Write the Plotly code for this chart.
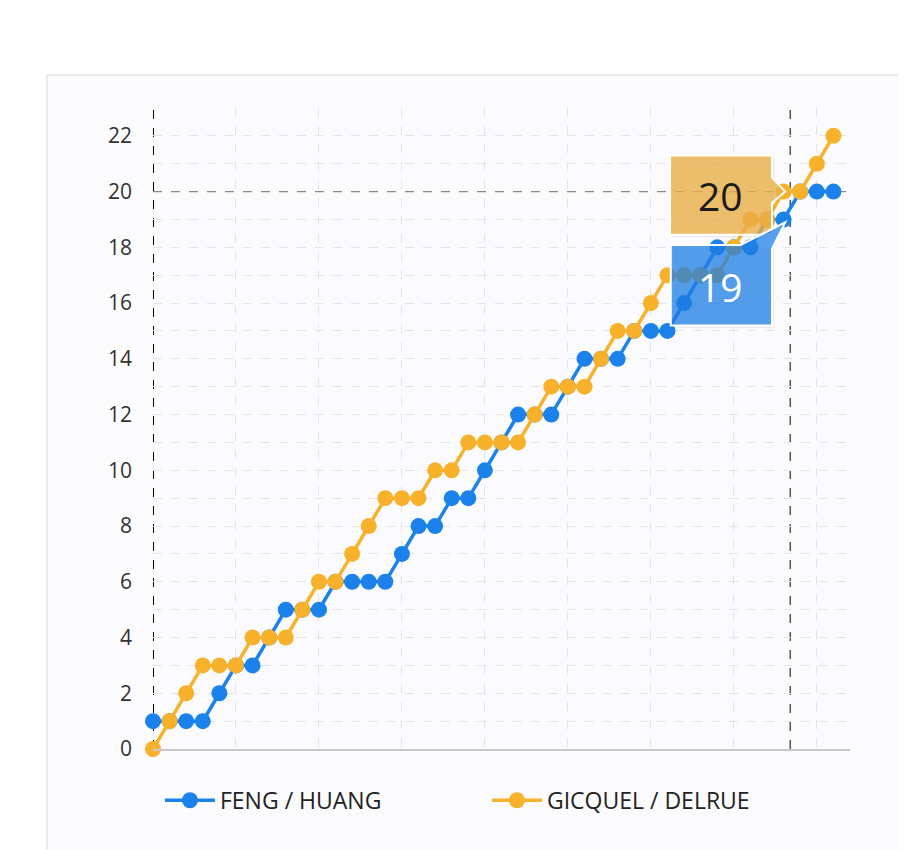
import plotly.graph_objects as go

# rally-by-rally score progression
rallies = list(range(42))
feng_huang = [1, 1, 1, 1, 2, 3, 3, 4, 5, 5, 5, 6, 6, 6, 6, 7, 8, 8, 9, 9, 10,
              11, 12, 12, 12, 13, 14, 14, 14, 15, 15, 15, 16, 17, 18, 18, 18,
              19, 19, 20, 20, 20]
gicquel_delrue = [0, 1, 2, 3, 3, 3, 4, 4, 4, 5, 6, 6, 7, 8, 9, 9, 9, 10, 10,
                  11, 11, 11, 11, 12, 13, 13, 13, 14, 15, 15, 16, 17, 17, 17,
                  17, 18, 19, 19, 20, 20, 21, 22]
y_ticks = list(range(0, 23, 2))
hover_idx = 38

BLUE = "#1a82ea"
ORANGE = "#f8b12a"
GRID = "#e4e4e8"

fig = go.Figure()
fig.add_trace(go.Scatter(
    x=rallies, y=feng_huang, name="FENG / HUANG", mode="lines+markers",
    line=dict(color=BLUE, width=3.5), marker=dict(size=16, color=BLUE),
    cliponaxis=False))
fig.add_trace(go.Scatter(
    x=rallies, y=gicquel_delrue, name="GICQUEL / DELRUE", mode="lines+markers",
    line=dict(color=ORANGE, width=3.5), marker=dict(size=16, color=ORANGE),
    cliponaxis=False))

# card background
fig.add_shape(type="rect", xref="paper", yref="paper", x0=-0.152, x1=1.2,
              y0=-0.3, y1=1.0515, fillcolor="#fbfbfd",
              line=dict(color="#e6e6ea", width=1.5), layer="below")

# crosshairs
fig.add_shape(type="line", xref="x", yref="paper", x0=0, x1=0, y0=0, y1=1,
              line=dict(color="#000", width=2, dash="dash"), layer="between")
fig.add_shape(type="line", xref="x", yref="paper", x0=hover_idx + 0.4,
              x1=hover_idx + 0.4, y0=0, y1=1,
              line=dict(color="#555", width=1.5, dash="dash"), layer="between")
fig.add_shape(type="line", xref="x", yref="y", x0=0, x1=41.8,
              y0=gicquel_delrue[hover_idx], y1=gicquel_delrue[hover_idx],
              line=dict(color="#888", width=1.2, dash="dash"), layer="between")

# tooltips (with a faint shadow)
ox, oy = hover_idx + 0.1, gicquel_delrue[hover_idx]
orange_path = (f"M 31.15,21.3 L 37.3,21.3 L 37.3,20.5 L {ox},{oy} "
               f"L 37.3,19.6 L 37.3,18.45 L 31.15,18.45 Z")
bx, by = hover_idx + 0.1, feng_huang[hover_idx]
blue_path = (f"M 31.2,18.08 L 35.4,18.08 L {bx},{by - 0.1} "
             f"L 37.3,17.95 L 37.3,15.2 L 31.2,15.2 Z")
fig.add_shape(type="rect", xref="x", yref="y", x0=31.3, x1=37.45, y0=18.35, y1=21.2,
              fillcolor="rgba(0,0,0,0.06)", line=dict(width=0))
fig.add_shape(type="path", xref="x", yref="y", path=orange_path,
              fillcolor="rgba(236,176,70,0.78)", line=dict(color="white", width=2))
fig.add_shape(type="rect", xref="x", yref="y", x0=31.35, x1=37.45, y0=15.1, y1=17.98,
              fillcolor="rgba(0,0,0,0.06)", line=dict(width=0))
fig.add_shape(type="path", xref="x", yref="y", path=blue_path,
              fillcolor="rgba(30,128,232,0.74)", line=dict(color="white", width=2))
fig.add_annotation(x=34.2, y=19.85, text=str(gicquel_delrue[hover_idx]),
                   showarrow=False, font=dict(size=39, color="#1a1a1a"))
fig.add_annotation(x=34.2, y=16.6, text=str(feng_huang[hover_idx]),
                   showarrow=False, font=dict(size=39, color="white"))

fig.update_layout(
    width=906, height=850,
    margin=dict(l=145, r=64, t=100, b=109),
    paper_bgcolor="white", plot_bgcolor="rgba(0,0,0,0)",
    font=dict(family="Open Sans", color="#333"),
    showlegend=True,
    legend=dict(orientation="h", x=0.01, xanchor="left", y=-0.08,
                yanchor="middle", font=dict(size=23, color="#222"),
                itemwidth=50, entrywidth=262, bgcolor="rgba(0,0,0,0)"),
    xaxis=dict(range=[0, 42], tick0=0, dtick=5, showticklabels=False,
               showgrid=True, gridcolor=GRID, griddash="dash", gridwidth=1,
               zeroline=False, showline=True, linecolor="#c8c8cc", linewidth=1.5,
               ticks=""),
    yaxis=dict(range=[0, 23], tickvals=y_ticks, showgrid=True, gridcolor=GRID,
               griddash="dash", zeroline=False, ticks="",
               tickfont=dict(size=21, color="#333"), ticklabelstandoff=20,
               minor=dict(dtick=1, showgrid=True, gridcolor=GRID, griddash="dash")),
)

fig.write_html("out.html")
